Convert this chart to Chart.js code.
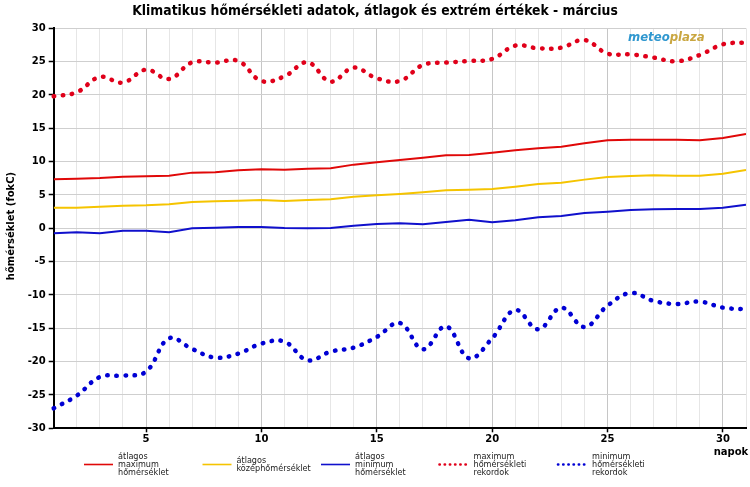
<!DOCTYPE html>
<html>
<head>
<meta charset="utf-8">
<script src="https://cdn.jsdelivr.net/npm/chart.js@4.4.0/dist/chart.umd.min.js"></script>
<style>
  body { margin: 0; background: #fff; }
  #wrap { position: relative; width: 750px; height: 487px; }
</style>
</head>
<body>
<div id="wrap"><canvas id="chart"></canvas></div>
<script>
const days = [1, 2, 3, 4, 5, 6, 7, 8, 9, 10, 11, 12, 13, 14, 15, 16, 17, 18, 19, 20, 21, 22, 23, 24, 25, 26, 27, 28, 29, 30, 31];

const avgMax = [7.35, 7.45, 7.55, 7.75, 7.8, 7.9, 8.35, 8.4, 8.7, 8.85, 8.8, 8.95, 9.0, 9.55, 9.9, 10.25,
  10.6, 10.95, 11.0, 11.35, 11.7, 12.0, 12.25, 12.75, 13.2, 13.3, 13.3, 13.3, 13.2, 13.55, 14.15];
const avgMean = [3.1, 3.1, 3.25, 3.4, 3.45, 3.6, 3.95, 4.05, 4.15, 4.25, 4.1, 4.25, 4.35, 4.75, 4.95, 5.15,
  5.4, 5.7, 5.8, 5.9, 6.25, 6.65, 6.85, 7.3, 7.7, 7.85, 7.95, 7.9, 7.9, 8.2, 8.75];
const avgMin = [-0.75, -0.6, -0.75, -0.35, -0.35, -0.6, 0, 0.1, 0.2, 0.2, 0.05, 0, 0.05, 0.4, 0.65, 0.75,
  0.6, 0.95, 1.3, 0.9, 1.2, 1.65, 1.85, 2.3, 2.5, 2.75, 2.85, 2.9, 2.9, 3.1, 3.55];
const recMax = [19.8, 20.4, 22.7, 21.85, 23.8, 22.4, 24.9, 24.85, 25.1, 22.1, 22.8, 24.9, 22.0, 24.1, 22.5, 22.1,
  24.5, 24.85, 25.1, 25.4, 27.4, 27.0, 27.1, 28.25, 26.2, 26.1, 25.6, 25.05, 26.0, 27.6, 27.85];
const recMin = [-27.0, -25.1, -22.3, -22.1, -21.5, -16.5, -18.1, -19.4, -18.8, -17.3, -17.0, -19.8, -18.5, -17.9, -16.3, -14.2,
  -18.15, -14.7, -19.5, -16.5, -12.25, -15.15, -11.9, -14.8, -11.6, -9.7, -10.9, -11.35, -11.0, -11.9, -12.15];

const legendLabels = [
  ['átlagos', 'maximum', 'hőmérséklet'],
  ['átlagos', 'középhőmérséklet'],
  ['átlagos', 'minimum', 'hőmérséklet'],
  ['maximum', 'hőmérsékleti', 'rekordok'],
  ['minimum', 'hőmérsékleti', 'rekordok']
];

const titleText = 'Klimatikus hőmérsékleti adatok, átlagok és extrém értékek - március';

const pts = arr => arr.map((v, i) => ({ x: days[i], y: v }));

const solid = (label, data, color) => ({
  label: label.join(' '), data: pts(data), borderColor: color, backgroundColor: color,
  borderWidth: 2, pointRadius: 0, tension: 0, fill: false
});
const dotted = (label, data, color) => ({
  label: label.join(' '), data: pts(data), borderColor: color, backgroundColor: color,
  borderWidth: 4.5, borderDash: [0.5, 8.6], borderCapStyle: 'round', pointRadius: 0,
  tension: 0.4, fill: false, clip: 6, dotted: true
});

const extras = {
  id: 'extras',
  afterDraw(chart) {
    const ctx = chart.ctx;
    ctx.save();
    ctx.fillStyle = '#000';
    ctx.textAlign = 'center';
    ctx.textBaseline = 'middle';
    ctx.font = 'bold 13.8px "DejaVu Sans Condensed", "DejaVu Sans"';
    ctx.fillText(titleText, 375, 11);

    ctx.font = 'bold 10px "DejaVu Sans"';
    ctx.fillText('napok', 731, 452);

    ctx.save();
    ctx.translate(11, 226);
    ctx.rotate(-Math.PI / 2);
    ctx.fillText('hőmérséklet (fokC)', 0, 0);
    ctx.restore();

    // logo
    ctx.textAlign = 'left';
    ctx.font = 'italic bold 13px "DejaVu Sans Condensed", "DejaVu Sans"';
    const w1 = ctx.measureText('meteo').width;
    ctx.fillStyle = '#2f97cf';
    ctx.fillText('meteo', 628, 38);
    ctx.fillStyle = '#c9a640';
    ctx.fillText('plaza', 628 + w1, 38);

    // legend
    const x0 = 83, step = 118.5, ly = 464.5;
    chart.data.datasets.forEach((ds, i) => {
      const x = x0 + i * step;
      ctx.save();
      ctx.strokeStyle = ds.borderColor;
      if (ds.dotted) {
        ctx.lineWidth = 2.6;
        ctx.lineCap = 'round';
        ctx.setLineDash([0.3, 4.9]);
      } else {
        ctx.lineWidth = 1.6;
      }
      ctx.beginPath();
      ctx.moveTo(x + 1, ly);
      ctx.lineTo(x + 30, ly);
      ctx.stroke();
      ctx.restore();
      const lines = legendLabels[i];
      ctx.fillStyle = '#222';
      ctx.font = '9px "DejaVu Sans Condensed", "DejaVu Sans"';
      ctx.textAlign = 'left';
      lines.forEach((t, j) => {
        ctx.fillText(t, x + 35, ly + (j - (lines.length - 1) / 2) * 8.3);
      });
    });
    ctx.restore();
  }
};

new Chart(document.getElementById('chart'), {
  type: 'line',
  data: {
    datasets: [
      solid(legendLabels[0], avgMax, '#e00808'),
      solid(legendLabels[1], avgMean, '#f5c400'),
      solid(legendLabels[2], avgMin, '#1010cc'),
      dotted(legendLabels[3], recMax, '#e0001a'),
      dotted(legendLabels[4], recMin, '#0000d4')
    ]
  },
  options: {
    responsive: true,
    maintainAspectRatio: false,
    animation: false,
    layout: { padding: { left: 0, right: 4, top: 28.3, bottom: 0 } },
    plugins: { legend: { display: false }, tooltip: { enabled: false }, title: { display: false } },
    scales: {
      x: {
        type: 'linear', min: 1, max: 31,
        afterFit: s => { s.height = 58.7; },
        border: { color: '#000', width: 2 },
        grid: {
          color: c => (c.tick && c.tick.value % 5 === 0) ? '#c6c6c6' : '#e6e6e6',
          tickColor: c => (c.tick && c.tick.value % 5 === 0) ? '#000' : 'rgba(0,0,0,0)',
          tickLength: 4, tickWidth: 1.5
        },
        ticks: {
          stepSize: 1, autoSkip: false, maxRotation: 0, padding: 1,
          color: '#000', font: { family: 'DejaVu Sans', size: 10, weight: 'bold' },
          callback: v => (v % 5 === 0 ? String(v) : '')
        }
      },
      y: {
        min: -30, max: 30,
        afterFit: s => { s.width = 53.7; },
        border: { color: '#000', width: 2 },
        grid: { color: '#cfcfcf', tickColor: '#000', tickLength: 5, tickWidth: 1.5 },
        ticks: {
          stepSize: 5, padding: 3, color: '#000',
          font: { family: 'DejaVu Sans', size: 10, weight: 'bold' }
        }
      }
    }
  },
  plugins: [extras]
});
</script>
</body>
</html>
